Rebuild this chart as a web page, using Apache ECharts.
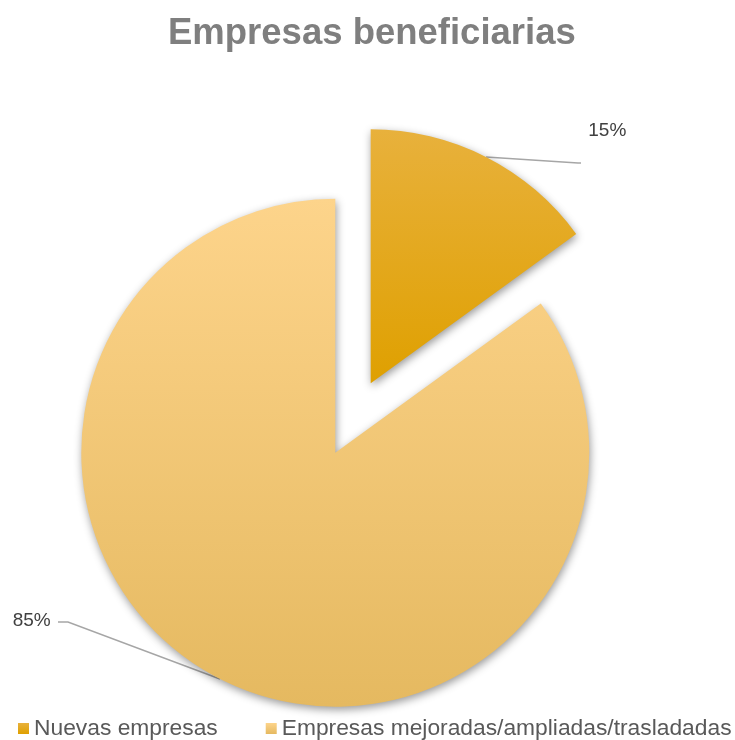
<!DOCTYPE html>
<html>
<head>
<meta charset="utf-8">
<script src="https://cdn.jsdelivr.net/npm/echarts@6/dist/echarts.min.js"></script>
<style>
html,body{margin:0;padding:0;background:#fff;}
#main{width:735px;height:740px;}
</style>
</head>
<body>
<div id="main"></div>
<script>
var titleText = "Empresas beneficiarias";
var categories = ["Nuevas empresas", "Empresas mejoradas/ampliadas/trasladadas"];
var values = [15, 85];
var topColors = ["#E8B13C", "#FDD48B"];
var bottomColors = ["#DFA000", "#E5B960"];
// label text nudges (excel places them off the leader line end)
var labelPads = [[0, 0, 0, 10], [0, 77, 0, 0]];
var labelFormats = ['{d}%\n\n', '{d}%\n\n\n\n\n\n'];
var labelLineHeights = [22, 21];

var myChart = echarts.init(document.getElementById('main'));

var pieData = [];
for (var i = 0; i < categories.length; i++) {
    pieData.push({
        name: categories[i],
        value: values[i],
        selected: true,
        label: {
            padding: labelPads[i],
            formatter: labelFormats[i],
            lineHeight: labelLineHeights[i]
        },
        itemStyle: {
            color: new echarts.graphic.LinearGradient(0, 0, 0, 1, [
                {offset: 0, color: topColors[i]},
                {offset: 1, color: bottomColors[i]}
            ])
        }
    });
}

// leader lines: small slice goes right, big slice goes up-left
function placeLabel(p) {
    var s = p.labelLinePoints[0];
    if (p.dataIndex === 0) {
        return {
            labelLinePoints: [s, [s[0] + 92, s[1] + 6], [s[0] + 95, s[1] + 6]]
        };
    }
    return {
        labelLinePoints: [s, [s[0] - 152, s[1] - 57], [s[0] - 162, s[1] - 57]]
    };
}

var option = {
    title: {
        text: titleText,
        left: 163,
        top: 10,
        textStyle: {
            fontFamily: 'Liberation Sans',
            fontSize: 36.5,
            fontWeight: 'bold',
            color: '#7F7F7F'
        }
    },
    legend: {
        data: categories,
        left: 13,
        top: 712,
        width: 725,
        icon: 'rect',
        itemWidth: 11,
        itemHeight: 11,
        itemGap: 48,
        selectedMode: false,
        textStyle: {
            fontFamily: 'Liberation Sans',
            fontSize: 22.8,
            color: '#595959'
        }
    },
    series: [{
        type: 'pie',
        center: [353, 418],
        radius: 254,
        startAngle: 90,
        clockwise: true,
        selectedMode: 'multiple',
        selectedOffset: 39,
        animation: false,
        itemStyle: {
            shadowBlur: 8,
            shadowColor: 'rgba(0,0,0,0.4)',
            shadowOffsetX: 1,
            shadowOffsetY: 3
        },
        label: {
            show: true,
            fontFamily: 'Liberation Sans',
            fontSize: 19,
            color: '#404040'
        },
        labelLine: {
            show: true,
            length: 5,
            length2: 85,
            lineStyle: {color: '#A6A6A6', width: 1.5}
        },
        labelLayout: placeLabel,
        data: pieData
    }]
};
myChart.setOption(option);
</script>
</body>
</html>
